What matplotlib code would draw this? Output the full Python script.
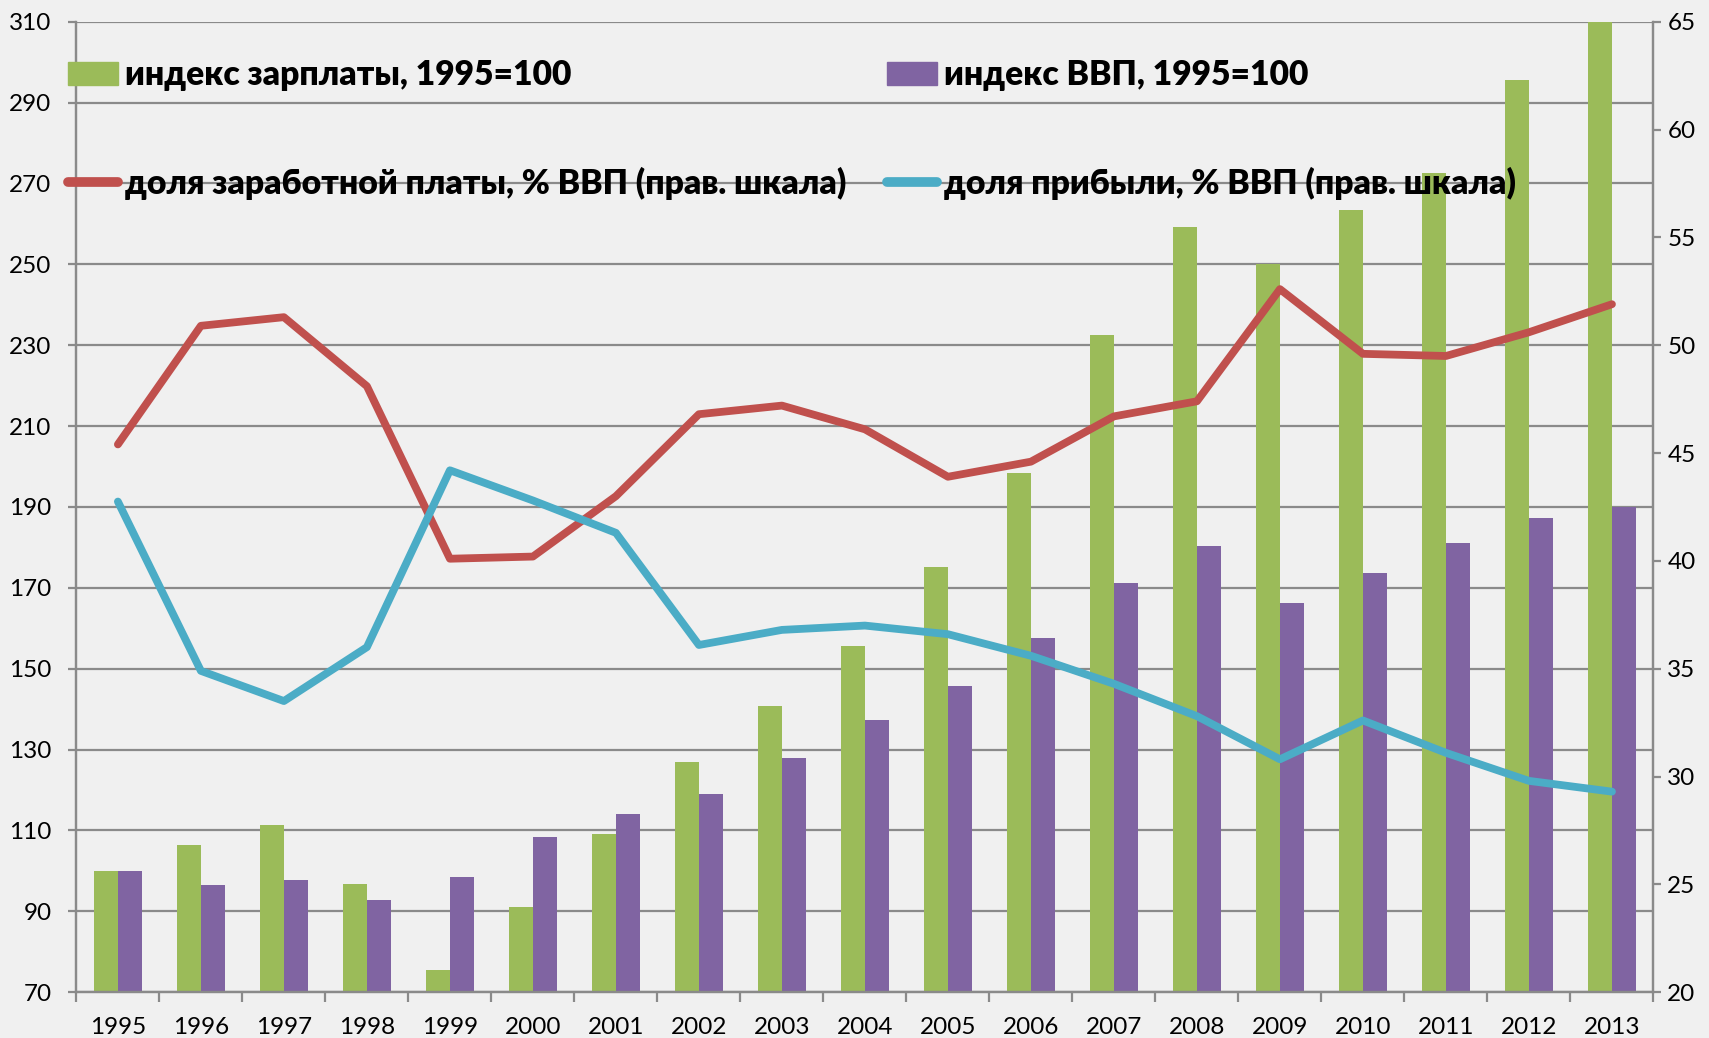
import matplotlib.pyplot as plt
from matplotlib.patches import Patch
from matplotlib.lines import Line2D
import numpy as np

years = [str(y) for y in range(1995, 2014)]

wage_index = [100, 106.4, 111.3, 96.7, 75.4, 91.0, 109.1, 126.9, 140.7, 155.5,
              175.2, 198.4, 232.6, 259.3, 250.1, 263.4, 272.5, 295.5, 312]
gdp_index = [100, 96.4, 97.8, 92.7, 98.6, 108.3, 114.0, 119.1, 128.0, 137.2,
             145.8, 157.6, 171.1, 180.3, 166.3, 173.6, 181.1, 187.3, 190.0]
wage_share = [45.4, 50.9, 51.3, 48.1, 40.1, 40.2, 43.0, 46.8, 47.2, 46.1,
              43.9, 44.6, 46.7, 47.4, 52.6, 49.6, 49.5, 50.6, 51.9]
profit_share = [42.75, 34.9, 33.5, 36.0, 44.2, 42.8, 41.3, 36.1, 36.8, 37.0,
                36.6, 35.6, 34.3, 32.8, 30.8, 32.6, 31.1, 29.8, 29.3]

GREEN = '#9BBB59'
PURPLE = '#8064A2'
RED = '#C0504D'
BLUE = '#4BACC6'
GRID = '#8a8a8a'
BG = '#f0f0f0'

plt.rcParams['font.family'] = ['Lato', 'DejaVu Sans']

fig = plt.figure(figsize=(17.09, 10.38), dpi=100, facecolor=BG)
ax = fig.add_axes([0.0447, 0.0441, 0.9228, 0.935], facecolor=BG)
ax2 = ax.twinx()

x = np.arange(len(years))
w = 0.285
ax.bar(x - w / 2, wage_index, w, color=GREEN, zorder=2)
ax.bar(x + w / 2, gdp_index, w, color=PURPLE, zorder=2)

ax.set_ylim(70, 310)
ax.set_yticks(range(70, 311, 20))
ax.set_xlim(-0.5, len(years) - 0.5)
ax.set_xticks(x)
ax.set_xticklabels(years)
ax.set_xticks(np.arange(-0.5, len(years), 1), minor=True)
ax.yaxis.grid(True, color=GRID, lw=1.6)
ax.set_axisbelow(True)

ax2.plot(x, wage_share, color=RED, lw=5.6, solid_capstyle='round', solid_joinstyle='round')
ax2.plot(x, profit_share, color=BLUE, lw=5.6, solid_capstyle='round', solid_joinstyle='round')
ax2.set_ylim(20, 65)
ax2.set_yticks(range(20, 66, 5))

for a in (ax, ax2):
    for s in a.spines.values():
        s.set_color(GRID)
        s.set_linewidth(1.6)
    a.spines['top'].set_visible(False)

ax.tick_params(axis='x', which='major', length=0, pad=18, labelsize=17.5)
ax.tick_params(axis='x', which='minor', length=7, width=1.6, color=GRID)
ax.tick_params(axis='y', length=6, width=1.6, color=GRID, pad=12, labelsize=17.5)
ax2.tick_params(axis='y', length=6, width=1.6, color=GRID, pad=4, labelsize=17.5)

handles = [
    Patch(color=GREEN),
    Line2D([], [], color=RED, lw=7, solid_capstyle='round'),
    Patch(color=PURPLE),
    Line2D([], [], color=BLUE, lw=7, solid_capstyle='round'),
]
labels = [
    'индекс зарплаты, 1995=100',
    'доля заработной платы, % ВВП (прав. шкала)',
    'индекс ВВП, 1995=100',
    'доля прибыли, % ВВП (прав. шкала)',
]
leg = ax2.legend(handles, labels, ncol=2, loc='upper left',
                 bbox_to_anchor=(0.030, 0.959), bbox_transform=fig.transFigure,
                 frameon=False, borderpad=0, handlelength=1.5, handletextpad=0.2,
                 labelspacing=2.25, columnspacing=1.2,
                 prop={'size': 24.2, 'weight': 'heavy'})

fig.savefig('out.png', dpi=100, facecolor=BG)
